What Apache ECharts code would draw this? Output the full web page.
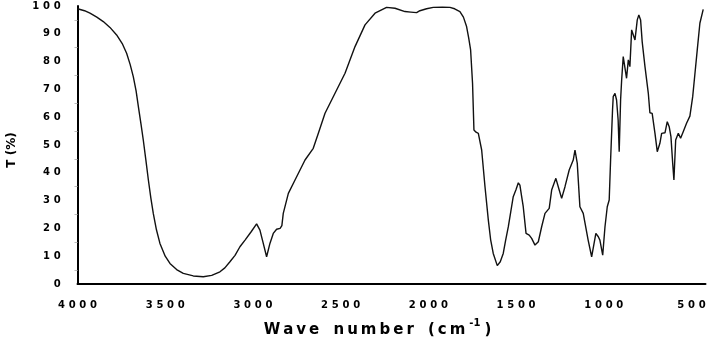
<!DOCTYPE html>
<html>
<head>
<meta charset="utf-8">
<script src="https://cdn.jsdelivr.net/npm/echarts@6/dist/echarts.min.js"></script>
<style>html,body{margin:0;padding:0;background:#fff}#c{width:709px;height:340px}</style>
</head>
<body>
<div id="c"></div>
<script>
// Wavenumber (cm-1)
const wavenumbers = [4000,3960,3929,3890,3853,3815,3777,3745,3720,3700,3682,3666,3653,3638,3625,3610,3596,3582,3568,3550,3530,3500,3473,3435,3397,3340,3283,3235,3188,3160,3131,3102,3074,3045,3010,2979,2960,2941,2922,2903,2884,2865,2845,2835,2827,2798,2760,2703,2656,2627,2589,2532,2475,2418,2361,2304,2238,2190,2133,2100,2067,2048,2010,1972,1920,1877,1850,1820,1800,1782,1770,1759,1748,1740,1728,1715,1696,1677,1658,1645,1630,1607,1590,1573,1560,1544,1530,1516,1500,1487,1478,1468,1459,1443,1425,1411,1392,1373,1354,1335,1311,1297,1273,1254,1240,1221,1197,1174,1164,1151,1136,1117,1089,1069,1060,1045,1031,1022,1006,993,980,969,961,950,946,936,927,918,912,904,898,889,879,870,860,851,841,832,822,809,800,790,781,765,746,737,724,708,695,680,670,651,638,627,617,607,600,590,575,562,547,528,509,493,480,467,452,433];
// Transmittance (%)
const transmittance = [99,98.3,97.4,96,94.4,92.3,89.6,86.5,83,79,74.6,69.5,63.8,57.5,51.8,44.5,37.4,31,25.4,19.5,14.6,10,7.4,5.2,3.8,2.9,2.6,3.1,4.4,5.8,8,10.3,13.4,15.8,18.8,21.6,19.4,14.6,9.8,14.6,18.2,19.7,20,21,25.4,32.6,37.4,44.6,48.8,54.2,61.4,68.6,75.8,85.4,93.2,97.4,99.5,99.2,98,97.8,97.6,98.3,99,99.5,99.6,99.5,99,98,96,92.6,88.5,84.2,72.2,55.4,54.6,54.2,48.2,35,23,16,11,6.6,8,11,15.5,20.6,26,31.4,34,36.4,35.6,31.4,27.8,18.2,17.6,16.4,14,15.2,20.6,25.4,27.2,33.8,38,33.8,30.8,35,41,44.6,48.2,43.4,27.8,25.4,15.8,9.8,9.6,18.2,17,15.8,10.4,20.6,27.8,30.2,44.6,62.6,67.4,68.6,66.2,59,47.6,66.2,73.4,81.8,81.8,74,80.6,78.2,91.4,91.6,87.8,95,96.8,95,87.2,78.2,68.6,61.6,61.4,54.2,47.6,50.6,54.2,54.4,58.4,56.6,53,43.4,37.4,51.8,54.2,52.4,54.8,57.8,60.4,67.4,75.8,84.2,93.8,98.8];
const xTickLabels = [4000,3500,3000,2500,2000,1500,1000,500];
const yTickLabels = [0,10,20,30,40,50,60,70,80,90,100];
const xTitle = 'Wave number (cm';
const xTitleSup = '-1';
const yTitle = 'T (%)';

const TS = '\u2009';
const spaced = s => String(s).split('').join(TS);
const digitsRich = v => String(v).split('').map(ch => '{d|' + ch + '}').join('');
const font = '"DejaVu Sans", "Liberation Sans", Arial, sans-serif';

const chart = echarts.init(document.getElementById('c'), null, {renderer: 'canvas'});
chart.setOption({
  animation: false,
  backgroundColor: '#fff',
  grid: {left: 77.5, right: 3.5, top: 6, bottom: 56, containLabel: false, outerBoundsMode: 'none'},
  xAxis: {
    type: 'value', inverse: true, min: 420, max: 4000,
    splitLine: {show: false},
    axisLine: {show: true, onZero: false, lineStyle: {color: '#000', width: 2}},
    axisTick: {show: false},
    axisLabel: {
      customValues: xTickLabels, margin: 16,
      formatter: v => digitsRich(v),
      rich: {d: {width: 10.7, align: 'center', fontSize: 10, fontWeight: 'bold', fontFamily: font, color: '#000'}}
    },
    name: '{a|' + xTitle.split(' ').map(spaced).join(TS + ' ' + TS + TS) + TS + '}{s|' + xTitleSup + '}{a|' + TS + ')}',
    nameLocation: 'middle', nameGap: 34,
    nameTextStyle: {
      padding: [0, 28, 0, 0],
      rich: {
        a: {fontSize: 15, fontWeight: 'bold', fontFamily: font, color: '#000', verticalAlign: 'bottom', lineHeight: 20},
        s: {fontSize: 10, fontWeight: 'bold', fontFamily: font, color: '#000', verticalAlign: 'top', lineHeight: 20, padding: [0, 1, 8, 1]}
      }
    }
  },
  yAxis: {
    type: 'value', min: 0, max: 100, interval: 10,
    splitLine: {show: false},
    axisLine: {show: true, lineStyle: {color: '#000', width: 2}},
    axisTick: {show: false},
    minorTick: {show: true, splitNumber: 2, length: 3, lineStyle: {color: '#bbb', width: 1}},
    axisLabel: {
      customValues: yTickLabels, margin: 15,
      formatter: v => digitsRich(v),
      rich: {d: {width: 10.7, align: 'center', fontSize: 10, fontWeight: 'bold', fontFamily: font, color: '#000'}}
    },
    name: yTitle, nameLocation: 'middle', nameGap: 60,
    nameTextStyle: {fontSize: 12, fontWeight: 'bold', fontFamily: font, color: '#000', padding: [0, 10, 0, 0]}
  },
  series: [{
    type: 'line', showSymbol: false, smooth: false,
    lineStyle: {color: '#111', width: 1.4},
    data: wavenumbers.map((w, i) => [w, transmittance[i]])
  }]
});
</script>
</body>
</html>
